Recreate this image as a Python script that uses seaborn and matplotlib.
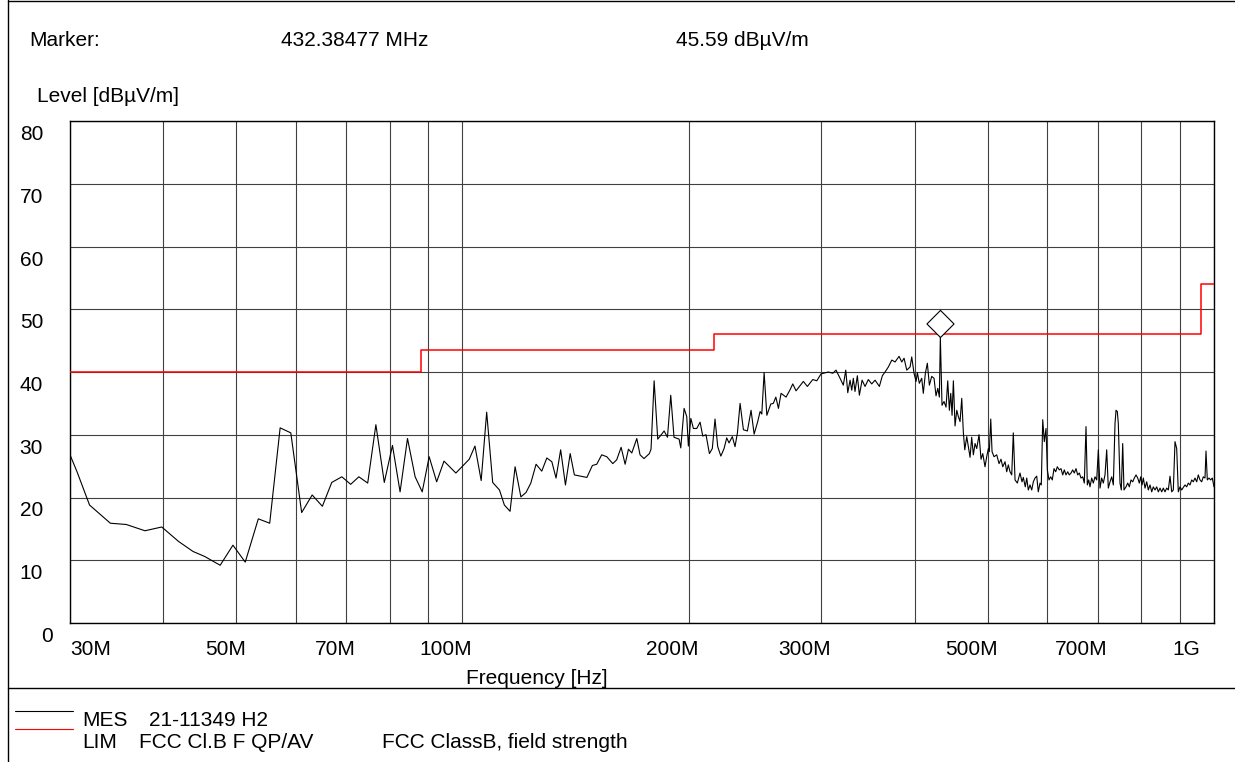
import matplotlib
matplotlib.use("Agg")
import matplotlib.pyplot as plt
import seaborn as sns
from matplotlib.transforms import ScaledTranslation
from matplotlib.path import Path
from matplotlib.lines import Line2D
from matplotlib.ticker import NullFormatter

sns.set_style("white")
plt.rcParams["font.family"] = ["Liberation Sans", "DejaVu Sans"]
plt.rcParams["text.color"] = "black"

# ---------------- data ----------------
mes_freq_mhz = [
    30.0, 30.7, 31.9, 34.0, 35.7, 37.8, 39.8, 41.9, 43.8, 45.4, 47.6, 49.5, 51.4, 53.5, 55.4,
    57.2, 59.1, 61.1, 63.1, 65.1, 67.0, 69.1, 71.0, 72.8, 74.8, 76.7, 78.7, 80.7, 82.6,
    84.5, 86.5, 88.4, 90.3, 92.4, 94.5, 98.0,
    99.3, 102.1, 103.9, 105.9, 107.7, 109.7, 112.0, 113.7, 115.7, 117.5, 119.6, 121.5,
    123.3, 125.3, 127.5, 129.5, 131.5, 133.2, 135.1, 137.1, 139.1, 140.9, 146.4, 148.9,
    150.9, 153.2, 155.6, 158.5, 160.4, 162.6, 164.6, 166.3, 168.0, 170.6, 172.3, 174.4,
    177.3, 178.2, 179.9, 181.9, 185.5, 187.4, 189.3, 191.2, 194.2, 195.2, 197.2, 198.8,
    199.8, 201.3, 202.9, 205.0, 207.1, 208.8, 210.9, 213.1, 215.0, 216.8, 218.6, 220.7,
    222.9, 224.7, 226.3, 228.6, 230.5, 232.2, 234.1, 236.5, 239.4, 242.1, 244.4, 247.1,
    248.9, 250.2, 252.0, 254.1, 257.2, 259.2, 261.2, 263.3, 265.4, 269.5, 272.9, 275.1,
    277.9,
    281.3, 284.2, 287.7, 292.5, 296.1, 300.0, 306.8, 311.0, 314.1, 318.0, 321.2, 323.6,
    325.6, 327.9, 329.6, 331.2, 332.9, 335.3, 337.4, 340.2, 343.3, 346.8, 350.4, 354.0,
    358.7, 362.0, 365.0, 368.7, 372.6, 376.4, 381.0, 384.2, 386.9, 390.1, 394.1, 396.1,
    398.9, 401.4, 403.0, 405.4, 408.4, 410.4, 413.0, 415.5, 418.1, 421.1, 424.1, 426.7,
    429.0, 431.1, 432.38477, 434.6, 437.3, 440.0, 442.3, 444.5, 446.4, 448.2, 450.0,
    452.3, 454.7, 456.9, 459.3, 461.7, 464.0, 466.0, 468.8, 471.1, 473.6, 476.0, 478.4,
    480.9, 483.4, 486.8, 489.8, 492.4, 495.8, 498.4, 500.9, 502.4, 504.6, 506.6, 509.7,
    513.9, 517.6, 520.7, 523.5, 527.2, 529.9, 532.5, 535.3, 538.1, 540.7, 543.6, 547.4,
    551.9,
    555.3, 557.5, 560.9, 563.4, 566.1, 569.1, 572.1, 574.9, 577.9, 580.9, 583.7, 586.8,
    589.1, 591.7, 594.6, 597.7, 600.1, 603.2, 606.3, 609.3, 612.5, 615.7, 618.7, 622.5,
    625.8, 629.1, 632.1, 635.4, 638.8, 641.9, 645.3, 648.6, 651.8, 655.2, 658.6, 661.9,
    665.3, 668.8, 672.1, 675.6, 678.3, 681.2, 683.9, 687.5, 690.9, 694.5, 698.1, 701.6,
    705.2, 708.9, 712.4, 716.1, 719.8, 723.4, 727.2, 731.0, 734.6, 738.4, 740.7, 743.6,
    745.9, 749.8, 752.8, 756.0, 759.0, 763.7, 767.7, 771.5, 775.5, 779.6, 783.4, 787.5,
    791.6, 795.5, 798.9, 802.1, 805.3, 809.5, 813.7, 817.7, 822.0, 826.3, 830.3, 834.7,
    839.0, 843.2, 847.6, 852.0, 856.2, 860.6, 865.1, 869.4, 873.9, 878.5, 882.8, 887.4,
    892.0, 896.4, 901.1, 905.8, 910.2, 915.0, 919.7, 924.3, 929.1, 934.0, 938.6, 943.4,
    948.4, 953.0, 958.0, 963.0, 967.7, 972.8, 975.8, 979.7, 984.8, 989.9, 994.8, 1000.0,
]
mes_level = [
    27.0, 24.1, 18.8, 15.9, 15.7, 14.7, 15.3, 13.0, 11.4, 10.6, 9.2, 12.4, 9.7, 16.6, 15.9,
    31.1, 30.3, 17.6, 20.4, 18.6, 22.4, 23.3, 22.1, 23.3, 22.3, 31.6, 22.4, 28.3, 20.9,
    29.4, 23.3, 20.9, 26.5, 22.5, 25.8, 23.9,
    24.6, 26.1, 28.2, 22.7, 33.6, 22.4, 21.2, 18.8, 17.8, 24.9, 20.1, 20.8,
    22.3, 25.3, 24.2, 26.3, 25.7, 23.1, 27.6, 22.0, 27.0, 23.6, 23.2, 25.1,
    25.3, 26.8, 26.5, 25.4, 26.0, 28.0, 25.3, 27.7, 27.1, 29.4, 26.8, 26.2,
    27.0, 27.7, 38.6, 29.3, 30.6, 29.6, 36.3, 29.6, 29.3, 27.9, 34.2, 32.9,
    28.2, 32.6, 31.0, 31.0, 32.0, 29.8, 30.0, 27.0, 27.8, 32.5, 28.1, 26.6,
    27.8, 29.5, 28.7, 29.7, 28.1, 30.3, 35.0, 30.8, 30.6, 33.9, 30.1, 32.1,
    33.7, 33.3, 39.9, 33.1, 34.9, 35.0, 36.0, 34.2, 36.6, 36.0, 37.2, 38.1,
    37.0,
    37.8, 38.5, 37.7, 38.8, 38.6, 39.7, 40.0, 39.8, 40.3, 39.0, 37.9, 40.3,
    36.7, 38.7, 37.1, 39.0, 36.9, 39.4, 36.3, 38.7, 37.7, 38.8, 38.1, 38.7,
    37.7, 39.4, 40.0, 40.8, 41.9, 41.6, 42.5, 41.6, 42.2, 40.3, 40.8, 42.4,
    39.8, 38.5, 39.9, 38.2, 39.0, 36.6, 39.8, 41.4, 37.9, 39.3, 39.0, 36.2,
    37.4, 36.0, 45.59, 34.7, 35.3, 34.4, 38.6, 33.9, 36.6, 33.1, 38.6,
    31.4, 33.9, 32.9, 32.1, 35.8, 30.3, 27.6, 29.7, 28.1, 26.4, 29.6, 26.8,
    28.6, 27.8, 30.0, 26.1, 27.0, 24.9, 26.5, 27.8, 27.3, 32.5, 27.3, 26.5,
    26.8, 25.4, 26.1, 24.9, 25.7, 24.1, 25.2, 24.1, 23.6, 30.3, 22.8, 22.3,
    23.9,
    22.5, 23.2, 21.7, 23.1, 21.2, 22.0, 21.2, 22.5, 23.1, 23.4, 20.9, 22.3,
    22.0, 32.4, 28.9, 31.0, 24.4, 22.8, 23.3, 22.8, 24.6, 24.1, 24.9, 24.4,
    24.6, 23.6, 24.4, 23.6, 24.1, 23.6, 23.9, 24.4, 23.9, 24.6, 23.6, 23.9,
    23.1, 23.3, 22.3, 31.3, 22.0, 22.8, 21.7, 23.1, 22.3, 23.3, 22.8, 27.6,
    21.5, 23.1, 22.3, 23.6, 27.6, 21.5, 22.5, 23.3, 22.0, 31.8, 33.9, 33.7,
    31.8, 22.3, 21.2, 28.6, 21.2, 21.7, 22.3, 21.7, 22.8, 22.5, 23.1, 23.6,
    23.1, 22.3, 23.3, 22.0, 23.1, 21.5, 22.5, 21.2, 22.0, 20.9, 21.7, 21.2,
    21.7, 20.9, 21.5, 20.9, 21.5, 20.9, 21.5, 21.2, 23.4, 20.9, 21.2, 28.9,
    27.8, 20.9, 21.7, 21.2, 21.6, 22.0, 21.7, 22.3, 22.0, 22.8, 22.5, 23.1,
    22.5, 23.6, 22.8, 22.5, 23.3, 23.1, 27.4, 22.8, 23.1, 22.8, 23.1, 21.7,
]

lim_edges_mhz = [30, 88, 216, 960, 1000]
lim_level = [40, 43.5, 46, 54, 54]

marker_freq_mhz = 432.38477
marker_level = 45.59

x_tick_mhz = [30, 50, 70, 100, 200, 300, 500, 700, 1000]
x_tick_labels = ["30M", "50M", "70M", "100M", "200M", "300M", "500M", "700M", "1G"]
x_grid_mhz = [40, 60, 80, 90, 400, 600, 800, 900]
y_ticks = [0, 10, 20, 30, 40, 50, 60, 70, 80]

# ---------------- figure ----------------
W, H = 1235, 762
DPI = 100
fig = plt.figure(figsize=(W / DPI, H / DPI), dpi=DPI)
fig.patch.set_facecolor("white")

def fx(px):
    return px / W

def fy(py):
    return 1 - py / H

ax = fig.add_axes([fx(69.5), fy(623), (1214 - 69.5) / W, (623 - 121) / H])
ax.set_xscale("log")

sns.lineplot(x=mes_freq_mhz, y=mes_level, ax=ax, color="black", lw=0.8,
             estimator=None, sort=False, zorder=3)
sns.lineplot(x=lim_edges_mhz, y=lim_level, ax=ax, color="#ff0000", lw=1.1,
             drawstyle="steps-post", estimator=None, sort=False, zorder=3)

diamond = Path([(0, 0), (1, 1), (0, 2), (-1, 1), (0, 0)],
               [Path.MOVETO, Path.LINETO, Path.LINETO, Path.LINETO, Path.CLOSEPOLY])
ax.plot([marker_freq_mhz], [marker_level], ls="none", marker=diamond, ms=39,
        mfc="white", mec="black", mew=0.8, zorder=5)

ax.set_xlim(30, 1000)
ax.set_ylim(0, 80)
ax.set_xticks(x_tick_mhz)
ax.set_xticklabels(x_tick_labels)
ax.set_xticks(x_grid_mhz, minor=True)
ax.xaxis.set_minor_formatter(NullFormatter())
ax.set_yticks(y_ticks)
ax.set_yticklabels([str(v) for v in y_ticks])

grid_kw = dict(color="#404040", lw=0.8)
ax.grid(True, which="both", axis="x", **grid_kw)
ax.grid(True, which="major", axis="y", **grid_kw)
ax.set_axisbelow(True)

ax.tick_params(which="both", length=0)
ax.tick_params(axis="x", pad=12, labelsize=15, labelcolor="black")
ax.tick_params(axis="y", pad=19, labelsize=15, labelcolor="black")
ax.set_xlabel("")
ax.set_ylabel("")
for sp in ax.spines.values():
    sp.set_visible(True)
    sp.set_color("black")
    sp.set_linewidth(1.0)

def shift(dx_px, dy_px):
    return ScaledTranslation(dx_px / DPI, dy_px / DPI, fig.dpi_scale_trans)

for tick, lab in zip(ax.xaxis.get_major_ticks(), x_tick_labels):
    t = tick.label1
    if lab == "30M":
        t.set_horizontalalignment("left")
        t.set_transform(t.get_transform() + shift(1, 0))
    elif lab == "1G":
        t.set_horizontalalignment("right")
        t.set_transform(t.get_transform() + shift(-14, 0))
    else:
        t.set_horizontalalignment("right")
        t.set_transform(t.get_transform() + shift(10, 0))

for tick, val in zip(ax.yaxis.get_major_ticks(), y_ticks):
    t = tick.label1
    if val == 0:
        t.set_horizontalalignment("center")
        t.set_transform(t.get_transform() + shift(4, -11.5))
    else:
        t.set_transform(t.get_transform() + shift(0, -11.5))

# ---------------- frame and annotations ----------------
fs = 15
fig.add_artist(Line2D([fx(7.5), fx(7.5)], [0, 1], transform=fig.transFigure, color="black", lw=1.0))
fig.add_artist(Line2D([fx(7.5), 1], [fy(1), fy(1)], transform=fig.transFigure, color="black", lw=1.0))
fig.add_artist(Line2D([fx(7.5), 1], [fy(688), fy(688)], transform=fig.transFigure, color="black", lw=1.0))

fig.text(fx(29), fy(40), "Marker:", fontsize=fs, va="center", ha="left")
fig.text(fx(281), fy(40), "432.38477 MHz", fontsize=fs, va="center", ha="left")
fig.text(fx(676), fy(40), "45.59 dBµV/m", fontsize=fs, va="center", ha="left")
fig.text(fx(37), fy(97), "Level [dBµV/m]", fontsize=fs, va="center", ha="left")
fig.text(fx(536.5), fy(678), "Frequency [Hz]", fontsize=fs, va="center", ha="center")

fig.add_artist(Line2D([fx(15), fx(73)], [fy(711), fy(711)], transform=fig.transFigure, color="black", lw=0.8))
fig.add_artist(Line2D([fx(15), fx(73)], [fy(729), fy(729)], transform=fig.transFigure, color="#ff0000", lw=0.8))
fig.text(fx(82), fy(720), "MES", fontsize=fs, va="center", ha="left")
fig.text(fx(149), fy(720), "21-11349 H2", fontsize=fs, va="center", ha="left")
fig.text(fx(82), fy(742), "LIM", fontsize=fs, va="center", ha="left")
fig.text(fx(139), fy(742), "FCC Cl.B F QP/AV", fontsize=fs, va="center", ha="left")
fig.text(fx(382), fy(742), "FCC ClassB, field strength", fontsize=fs, va="center", ha="left")

fig.savefig("out.png", dpi=DPI, facecolor="white")
